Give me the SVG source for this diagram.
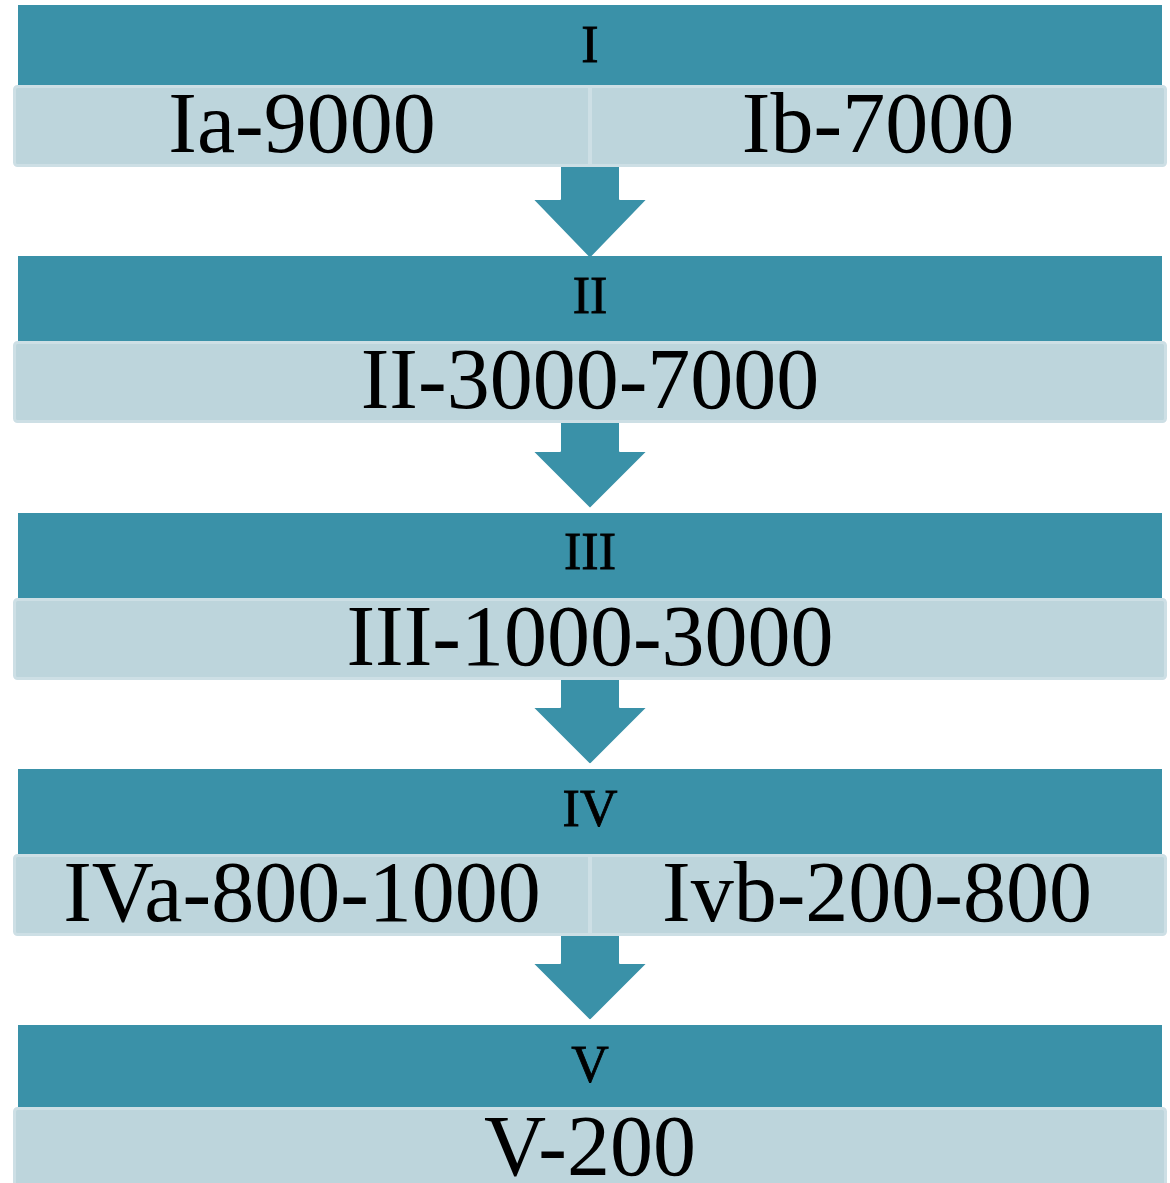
<svg xmlns="http://www.w3.org/2000/svg" width="1170" height="1183" viewBox="0 0 1170 1183">
<style>
.hdr{fill:#3a91a8}
.box{fill:#bdd5dc;stroke:#cddfe5;stroke-width:3}
.div{stroke:#cddfe5;stroke-width:4}
.arrow{fill:#3a91a8;stroke:#ffffff;stroke-width:2;stroke-linejoin:round}
.ht{font-family:"Liberation Serif","Times New Roman",serif;font-size:52px;fill:#000;stroke:#000;stroke-width:0.8;text-anchor:middle}
.bt{font-family:"Liberation Serif","Times New Roman",serif;font-size:86px;fill:#000;text-anchor:middle}
</style>
<rect width="1170" height="1183" fill="#ffffff"/>
<g id="connectors">
<path class="arrow" d="M560 166 H620 V199 H648 L590 259 L532 199 H560 Z"/>
<path class="arrow" d="M560 422 H620 V451 H648 L590 509 L532 451 H560 Z"/>
<path class="arrow" d="M560 679 H620 V707 H648 L590 765 L532 707 H560 Z"/>
<path class="arrow" d="M560 935 H620 V963 H648 L590 1021 L532 963 H560 Z"/>
</g>
<g id="node-I">
<rect class="hdr" x="18" y="5" width="1144" height="81"/>
<text class="ht" x="590" y="62">I</text>
<rect class="box" x="14.5" y="86.5" width="1151" height="79" rx="3"/>
<line class="div" x1="590" y1="86" x2="590" y2="166"/>
<text class="bt" x="302" y="152">Ia-9000</text>
<text class="bt" x="878" y="152">Ib-7000</text>
</g>
<g id="node-II">
<rect class="hdr" x="18" y="256" width="1144" height="86"/>
<text class="ht" x="590" y="313">II</text>
<rect class="box" x="14.5" y="342.5" width="1151" height="79" rx="3"/>
<text class="bt" x="590" y="408">II-3000-7000</text>
</g>
<g id="node-III">
<rect class="hdr" x="18" y="513" width="1144" height="86"/>
<text class="ht" x="590" y="569">III</text>
<rect class="box" x="14.5" y="599.5" width="1151" height="79" rx="3"/>
<text class="bt" x="590" y="665">III-1000-3000</text>
</g>
<g id="node-IV">
<rect class="hdr" x="18" y="769" width="1144" height="86"/>
<text class="ht" x="590" y="826">IV</text>
<rect class="box" x="14.5" y="855.5" width="1151" height="79" rx="3"/>
<line class="div" x1="590" y1="855" x2="590" y2="935"/>
<text class="bt" x="302" y="921">IVa-800-1000</text>
<text class="bt" x="877" y="921">Ivb-200-800</text>
</g>
<g id="node-V">
<rect class="hdr" x="18" y="1025" width="1144" height="83"/>
<text class="ht" x="590" y="1082">V</text>
<rect class="box" x="14.5" y="1108.5" width="1151" height="90" rx="3"/>
<text class="bt" x="590" y="1175">V-200</text>
</g>
</svg>
